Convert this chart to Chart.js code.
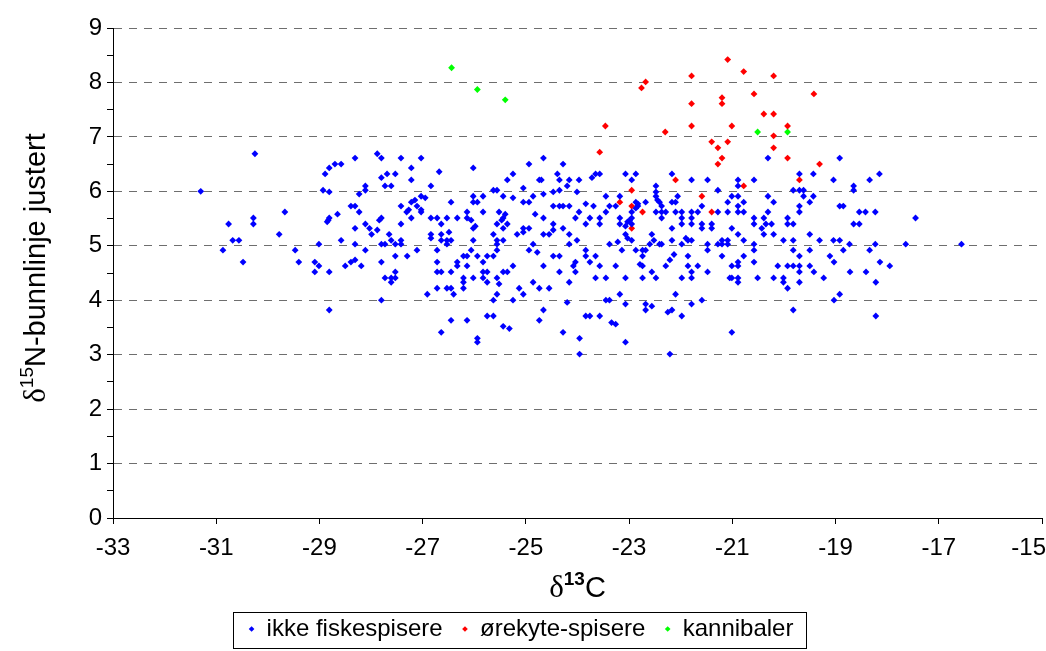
<!DOCTYPE html>
<html>
<head>
<meta charset="utf-8">
<script src="https://cdn.jsdelivr.net/npm/chart.js@4.4.1/dist/chart.umd.min.js"></script>
<style>
  html, body { margin: 0; padding: 0; background: #fff; }
</style>
</head>
<body>
<canvas id="chart" width="1046" height="651"></canvas>
<script>
// δ13C (x) og δ15N-bunnlinje justert (y), lest av figuren
const ikkeFiskespisere = [
  [-30.25,6.69],[-27.88,6.69],[-28.31,6.61],[-28.58,6.50],[-28.70,6.50],[-28.81,6.43],[-28.89,6.32],[-31.30,6.00],
  [-28.93,6.02],[-28.81,5.99],[-28.11,6.10],[-28.11,6.02],[-28.23,5.95],[-28.39,5.73],[-28.31,5.73],[-28.23,5.62],
  [-29.67,5.62],[-28.65,5.58],[-28.81,5.51],[-28.83,5.47],[-28.85,5.44],[-30.28,5.51],[-30.28,5.40],[-30.76,5.40],
  [-28.11,5.40],[-28.03,5.32],[-27.88,5.29],[-27.99,5.21],[-27.84,5.47],[-28.31,5.32],[-29.78,5.21],[-30.68,5.10],
  [-30.56,5.10],[-28.58,5.10],[-30.87,4.92],[-29.47,4.92],[-29.01,5.03],[-28.31,5.03],[-28.11,4.92],
  [-30.48,4.70],[-29.40,4.70],[-29.09,4.70],[-29.01,4.63],[-29.09,4.52],[-28.81,4.52],[-28.50,4.63],[-28.39,4.70],
  [-28.31,4.74],[-28.19,4.63],[-28.81,3.82],
  [-27.80,6.61],[-27.42,6.61],[-27.03,6.61],[-24.66,6.61],[-27.22,6.43],[-26.02,6.43],[-24.94,6.50],[-24.28,6.50],
  [-27.69,6.32],[-27.53,6.32],[-26.68,6.36],[-25.25,6.32],[-24.39,6.32],[-27.80,6.25],[-27.22,6.21],[-25.36,6.21],
  [-24.74,6.21],[-24.70,6.21],[-24.35,6.21],[-24.16,6.21],[-23.97,6.21],[-27.73,6.10],[-27.61,6.10],[-26.84,6.10],
  [-25.63,6.02],[-25.56,6.02],[-25.05,6.06],[-24.47,5.99],[-24.35,6.02],[-24.20,6.10],[-24.01,5.99],
  [-27.03,5.91],[-26.95,5.88],[-27.15,5.84],[-27.22,5.80],[-26.45,5.80],[-26.02,5.91],[-26.02,5.80],[-25.94,5.80],
  [-25.83,5.91],[-25.44,5.91],[-25.25,5.88],[-25.05,5.80],[-24.94,5.80],[-24.86,5.91],[-24.66,5.95],
  [-27.42,5.73],[-27.11,5.73],[-27.03,5.66],[-27.27,5.66],[-27.31,5.62],[-27.03,5.62],[-27.22,5.51],[-27.80,5.51],
  [-27.42,5.40],[-26.84,5.51],[-26.72,5.51],[-26.53,5.51],[-26.33,5.51],[-26.14,5.62],[-26.14,5.51],[-26.06,5.47],
  [-26.64,5.40],[-25.83,5.62],[-25.52,5.62],[-25.40,5.58],[-25.44,5.51],[-25.47,5.47],[-25.56,5.40],
  [-24.82,5.58],[-24.66,5.51],[-24.47,5.73],[-24.35,5.73],[-24.28,5.73],[-24.16,5.73],[-23.97,5.62],[-24.04,5.51],
  [-24.47,5.40],[-27.65,5.21],[-27.61,5.10],[-27.42,5.10],[-27.73,5.03],[-27.53,5.03],[-27.42,5.03],[-27.80,5.03],
  [-26.84,5.21],[-26.84,5.14],[-26.64,5.21],[-26.64,5.10],[-26.49,5.25],[-26.53,5.10],[-26.45,5.10],[-26.53,5.03],
  [-25.98,5.36],[-26.02,5.32],[-26.02,5.10],[-25.63,5.21],[-25.56,5.10],[-25.56,5.03],[-25.44,5.32],[-25.36,5.40],
  [-25.44,5.10],[-25.17,5.21],[-25.05,5.32],[-25.05,5.25],[-24.94,5.32],[-24.86,5.03],[-24.66,5.21],[-24.55,5.21],
  [-24.47,5.29],[-24.28,5.32],[-24.16,5.21],[-24.01,5.10],[-24.16,5.03],
  [-27.11,4.92],[-26.72,4.92],[-26.06,4.92],[-25.56,4.92],[-24.94,4.92],[-24.78,4.88],
  [-23.72,6.25],[-23.65,6.32],[-23.57,6.32],[-23.07,6.32],[-22.87,6.32],[-22.95,6.21],[-22.17,6.32],[-21.79,6.21],
  [-21.48,6.21],[-20.89,6.21],[-20.89,6.10],[-20.58,6.21],[-20.31,6.61],
  [-23.45,5.91],[-23.18,5.91],[-22.87,5.80],[-22.83,5.77],[-22.68,5.80],[-22.48,6.10],[-22.48,5.99],[-22.48,5.91],
  [-22.45,5.84],[-22.41,5.80],[-22.17,5.80],[-22.10,5.80],[-22.06,5.91],[-21.28,6.02],[-21.09,5.80],[-21.01,5.91],
  [-20.89,5.91],[-20.78,5.80],[-20.31,5.91],[-20.20,5.80],
  [-23.84,5.77],[-23.69,5.73],[-23.38,5.73],[-23.26,5.73],[-23.45,5.62],[-22.95,5.62],[-22.87,5.69],[-22.83,5.73],
  [-22.48,5.62],[-22.37,5.73],[-22.37,5.62],[-22.29,5.62],[-22.37,5.51],[-22.10,5.62],[-21.98,5.62],[-21.79,5.62],
  [-21.67,5.62],[-21.59,5.73],[-21.28,5.62],[-21.09,5.62],[-20.89,5.73],[-20.89,5.62],[-20.78,5.62],[-20.31,5.62],
  [-23.76,5.51],[-23.57,5.51],[-23.18,5.51],[-22.95,5.51],[-23.84,5.40],[-23.57,5.40],[-23.18,5.40],[-23.03,5.44],
  [-22.99,5.47],[-23.07,5.36],[-22.95,5.40],[-20.58,5.51],[-20.58,5.40],[-20.39,5.51],[-20.35,5.40],[-20.24,5.40],
  [-22.17,5.32],[-21.98,5.51],[-21.98,5.40],[-21.79,5.51],[-21.79,5.40],[-21.59,5.40],[-21.59,5.32],[-21.40,5.40],
  [-21.40,5.32],[-21.01,5.32],[-20.43,5.32],
  [-22.56,5.21],[-22.52,5.10],[-22.60,5.03],[-22.68,4.92],[-22.87,4.92],[-22.74,4.92],[-23.14,4.92],[-23.38,5.03],
  [-23.22,5.07],[-23.07,5.21],[-23.03,5.14],[-22.95,5.10],[-23.84,4.92],[-22.41,5.03],[-22.37,5.03],[-22.17,5.10],
  [-21.98,5.03],[-21.90,5.14],[-21.86,5.10],[-21.79,5.10],[-21.48,5.03],[-21.48,4.92],[-21.20,5.10],[-21.20,5.03],
  [-21.09,5.10],[-21.28,5.03],[-21.09,5.03],[-20.89,5.21],[-20.78,5.10],[-20.58,5.03],[-20.58,4.92],[-20.39,5.21],
  [-20.20,5.21],
  [-18.92,6.61],[-19.70,6.32],[-19.43,6.32],[-19.04,6.21],[-18.34,6.21],[-18.15,6.32],[-19.82,6.02],[-19.70,6.02],
  [-19.62,6.02],[-19.62,5.91],[-19.43,5.91],[-19.50,5.80],[-18.65,6.10],[-18.65,6.02],[-19.70,5.73],[-19.70,5.62],
  [-18.92,5.73],[-18.85,5.73],[-18.54,5.62],[-18.42,5.62],[-18.23,5.62],[-19.93,5.51],[-19.93,5.40],[-19.82,5.40],
  [-18.65,5.40],[-18.54,5.40],[-17.45,5.51],[-19.50,5.21],[-20.01,5.10],[-19.82,5.10],[-19.31,5.10],[-19.04,5.10],
  [-18.92,5.10],[-18.73,5.03],[-18.23,5.03],[-17.64,5.03],[-16.56,5.03],[-19.82,4.92],[-19.50,4.92],[-18.85,4.92],
  [-18.34,4.92],
  [-27.53,4.81],[-27.30,4.81],[-26.21,4.81],[-26.14,4.81],[-25.94,4.81],[-25.75,4.81],[-25.63,4.81],[-24.47,4.81],
  [-24.35,4.81],[-27.80,4.70],[-26.72,4.70],[-26.33,4.70],[-26.33,4.63],[-26.14,4.63],[-25.83,4.70],[-24.66,4.63],
  [-24.04,4.70],[-24.08,4.63],[-27.53,4.52],[-26.72,4.52],[-26.64,4.52],[-26.45,4.52],[-25.83,4.52],[-25.75,4.52],
  [-25.44,4.52],[-25.36,4.52],[-25.25,4.63],[-24.35,4.52],[-24.04,4.52],
  [-27.73,4.41],[-27.61,4.41],[-27.53,4.41],[-27.61,4.33],[-26.21,4.41],[-26.21,4.33],[-26.02,4.41],[-25.83,4.41],
  [-25.56,4.41],[-25.75,4.33],[-25.52,4.30],[-24.86,4.33],[-24.16,4.33],
  [-26.72,4.22],[-26.53,4.22],[-26.45,4.22],[-26.21,4.22],[-26.40,4.11],[-26.91,4.11],[-25.56,4.11],[-25.13,4.22],
  [-24.74,4.22],[-24.55,4.22],[-25.05,4.11],[-27.80,4.00],[-25.63,4.00],[-25.25,4.00],[-24.20,3.96],[-24.66,3.82],
  [-26.45,3.63],[-26.14,3.63],[-25.75,3.71],[-25.63,3.71],[-25.44,3.52],[-25.32,3.48],[-24.74,3.63],[-26.64,3.41],
  [-24.28,3.41],[-25.94,3.30],[-25.94,3.23],[-23.96,3.01],
  [-23.84,4.81],[-23.65,4.81],[-22.74,4.81],[-22.13,4.84],[-21.86,4.81],[-21.20,4.81],[-20.78,4.81],
  [-23.76,4.70],[-23.57,4.63],[-23.26,4.63],[-22.79,4.66],[-22.74,4.63],[-22.21,4.74],[-22.29,4.63],[-21.86,4.63],
  [-21.67,4.63],[-21.79,4.52],[-22.56,4.52],[-21.48,4.52],[-21.01,4.63],[-20.89,4.70],[-20.89,4.63],[-20.58,4.70],
  [-23.65,4.41],[-23.45,4.41],[-23.07,4.41],[-22.74,4.41],[-22.48,4.41],[-21.98,4.41],[-21.79,4.41],[-21.05,4.41],
  [-21.01,4.41],[-20.89,4.41],[-20.89,4.33],[-20.51,4.41],
  [-23.18,4.11],[-22.10,4.11],[-23.45,4.00],[-23.38,4.00],[-23.07,3.93],[-22.68,3.93],[-22.56,3.89],[-22.68,3.82],
  [-21.79,3.93],[-21.59,4.00],[-23.84,3.71],[-23.76,3.71],[-23.57,3.71],[-22.25,3.78],[-22.17,3.82],[-21.98,3.71],
  [-23.34,3.59],[-23.26,3.56],[-23.96,3.30],[-21.01,3.41],[-23.07,3.23],[-22.21,3.01],
  [-19.70,4.81],[-19.11,4.81],[-20.12,4.63],[-19.93,4.63],[-19.82,4.63],[-19.70,4.63],[-19.50,4.63],[-19.03,4.70],
  [-18.14,4.70],[-17.95,4.63],[-19.70,4.52],[-19.42,4.52],[-18.72,4.52],[-18.41,4.52],[-20.20,4.41],[-20.01,4.41],
  [-20.01,4.33],[-19.23,4.41],[-19.70,4.33],[-19.93,4.22],[-18.22,4.33],[-18.92,4.11],[-19.03,4.00],[-19.82,3.82],
  [-18.22,3.71]
];

const orekyteSpisere = [
  [-22.68,8.01],[-22.76,7.90],[-21.79,8.12],[-21.79,7.61],[-23.46,7.20],[-22.30,7.09],[-21.79,7.20],
  [-21.09,8.42],[-20.78,8.20],[-20.20,8.12],[-21.20,7.72],[-21.20,7.61],[-20.58,7.79],[-19.42,7.79],
  [-20.39,7.42],[-20.20,7.42],[-21.01,7.20],[-19.93,7.20],[-20.20,7.02],
  [-21.40,6.91],[-21.09,6.91],[-23.57,6.72],[-21.28,6.80],[-21.20,6.61],[-21.28,6.50],[-22.10,6.21],
  [-22.95,6.02],[-23.18,5.80],[-22.95,5.73],[-22.74,5.62],[-21.59,5.91],[-21.40,5.62],[-20.78,6.10],
  [-22.95,5.32],[-20.20,6.80],[-19.93,6.61],[-19.31,6.50],[-19.70,6.21]
];

const kannibaler = [
  [-26.44,8.27],[-25.94,7.87],[-25.40,7.68],[-20.51,7.09],[-19.93,7.09]
];

const serieNavn = ['ikke fiskespisere', 'ørekyte-spisere', 'kannibaler'];
const serieFarger = ['#0000ff', '#ff0000', '#00ff00'];

const FONT = '"Liberation Sans", Arial, sans-serif';
Chart.defaults.font.family = FONT;
Chart.defaults.color = '#000';

const tilPunkter = arr => arr.map(p => ({ x: p[0], y: p[1] }));

function lagSerie(i, data) {
  return {
    label: serieNavn[i],
    data: tilPunkter(data),
    backgroundColor: serieFarger[i],
    borderColor: serieFarger[i],
    pointStyle: 'rectRot',
    pointRadius: 3.4,
    pointBorderWidth: 0,
    borderWidth: 0
  };
}

// tekst med hevet skrift (δ¹⁵N osv.)
function tegnRikTekst(ctx, deler, cx, cy, roter) {
  ctx.save();
  ctx.translate(cx, cy);
  if (roter) ctx.rotate(-Math.PI / 2);
  let total = 0;
  deler.forEach(d => { ctx.font = d.font; d.w = ctx.measureText(d.text).width; total += d.w; });
  let x = -total / 2;
  ctx.fillStyle = '#000';
  ctx.textBaseline = 'alphabetic';
  ctx.textAlign = 'left';
  deler.forEach(d => { ctx.font = d.font; ctx.fillText(d.text, x, d.dy); x += d.w; });
  ctx.restore();
}

const aksetitler = {
  id: 'aksetitler',
  afterDraw(chart) {
    const ctx = chart.ctx;
    const a = chart.chartArea;
    tegnRikTekst(ctx, [
      { text: 'δ', font: '31px "Liberation Serif", serif', dy: 0 },
      { text: '13', font: 'bold 19px ' + FONT, dy: -12 },
      { text: 'C', font: '29px ' + FONT, dy: 0 }
    ], (a.left + a.right) / 2, 597, false);
    tegnRikTekst(ctx, [
      { text: 'δ', font: '31px "Liberation Serif", serif', dy: 0 },
      { text: '15', font: '19px ' + FONT, dy: -12 },
      { text: 'N-bunnlinje justert', font: '29px ' + FONT, dy: 0 }
    ], 45, 268, true);
  }
};

const legendeRamme = {
  id: 'legendeRamme',
  afterDraw(chart) {
    const lg = chart.legend;
    if (!lg || !lg.legendHitBoxes || !lg.legendHitBoxes.length) return;
    const hb = lg.legendHitBoxes;
    const venstre = hb[0].left - 16;
    const siste = hb[hb.length - 1];
    const hoyre = siste.left + siste.width + 12;
    const ctx = chart.ctx;
    ctx.save();
    ctx.strokeStyle = '#000';
    ctx.lineWidth = 1;
    ctx.strokeRect(Math.round(venstre) + 0.5, Math.round(lg.top) + 1.5, Math.round(hoyre - venstre), 36);
    ctx.restore();
  }
};

new Chart(document.getElementById('chart').getContext('2d'), {
  type: 'scatter',
  data: {
    datasets: [
      lagSerie(0, ikkeFiskespisere),
      lagSerie(1, orekyteSpisere),
      lagSerie(2, kannibaler)
    ]
  },
  options: {
    responsive: false,
    animation: false,
    layout: { padding: { left: 0, right: 4, top: 28, bottom: 0 } },
    plugins: {
      tooltip: { enabled: false },
      legend: {
        position: 'bottom',
        labels: {
          usePointStyle: true,
          boxHeight: 4,
          boxWidth: 6,
          padding: 6,
          font: { size: 24 },
          color: '#000',
          generateLabels(chart) {
            const items = Chart.defaults.plugins.legend.labels.generateLabels(chart);
            items.forEach((it, i) => { if (i < items.length - 1) it.text += '  '; });
            return items;
          }
        }
      }
    },
    scales: {
      x: {
        type: 'linear',
        min: -33,
        max: -15,
        ticks: {
          stepSize: 2,
          maxTicksLimit: 100,
          autoSkip: false,
          maxRotation: 0,
          padding: 10,
          font: { size: 24 },
          color: '#000',
          // siste etikett flyttes litt inn så den ikke klippes
          callback: v => v === -15 ? '-15    ' : v
        },
        grid: { drawOnChartArea: false, drawTicks: true, tickLength: 6, tickColor: '#000', color: '#000' },
        border: { color: '#000', width: 1 },
        afterFit(s) { s.height = 93; s.paddingLeft = 0; s.paddingRight = 0; }
      },
      y: {
        min: 0,
        max: 9,
        ticks: {
          stepSize: 0.5,
          maxTicksLimit: 100,
          autoSkip: false,
          padding: 5,
          font: { size: 24 },
          color: '#000',
          callback: v => Number.isInteger(v) ? v : ''
        },
        grid: {
          drawTicks: true,
          tickLength: 6,
          tickColor: '#000',
          color: c => (c.tick && Number.isInteger(c.tick.value) && c.tick.value > 0) ? '#6e6e6e' : 'rgba(0,0,0,0)',
          lineWidth: 1
        },
        border: { color: '#000', width: 1, dash: [8, 7] },
        afterFit(s) { s.width = 113; }
      }
    }
  },
  plugins: [aksetitler, legendeRamme]
});
</script>
</body>
</html>
